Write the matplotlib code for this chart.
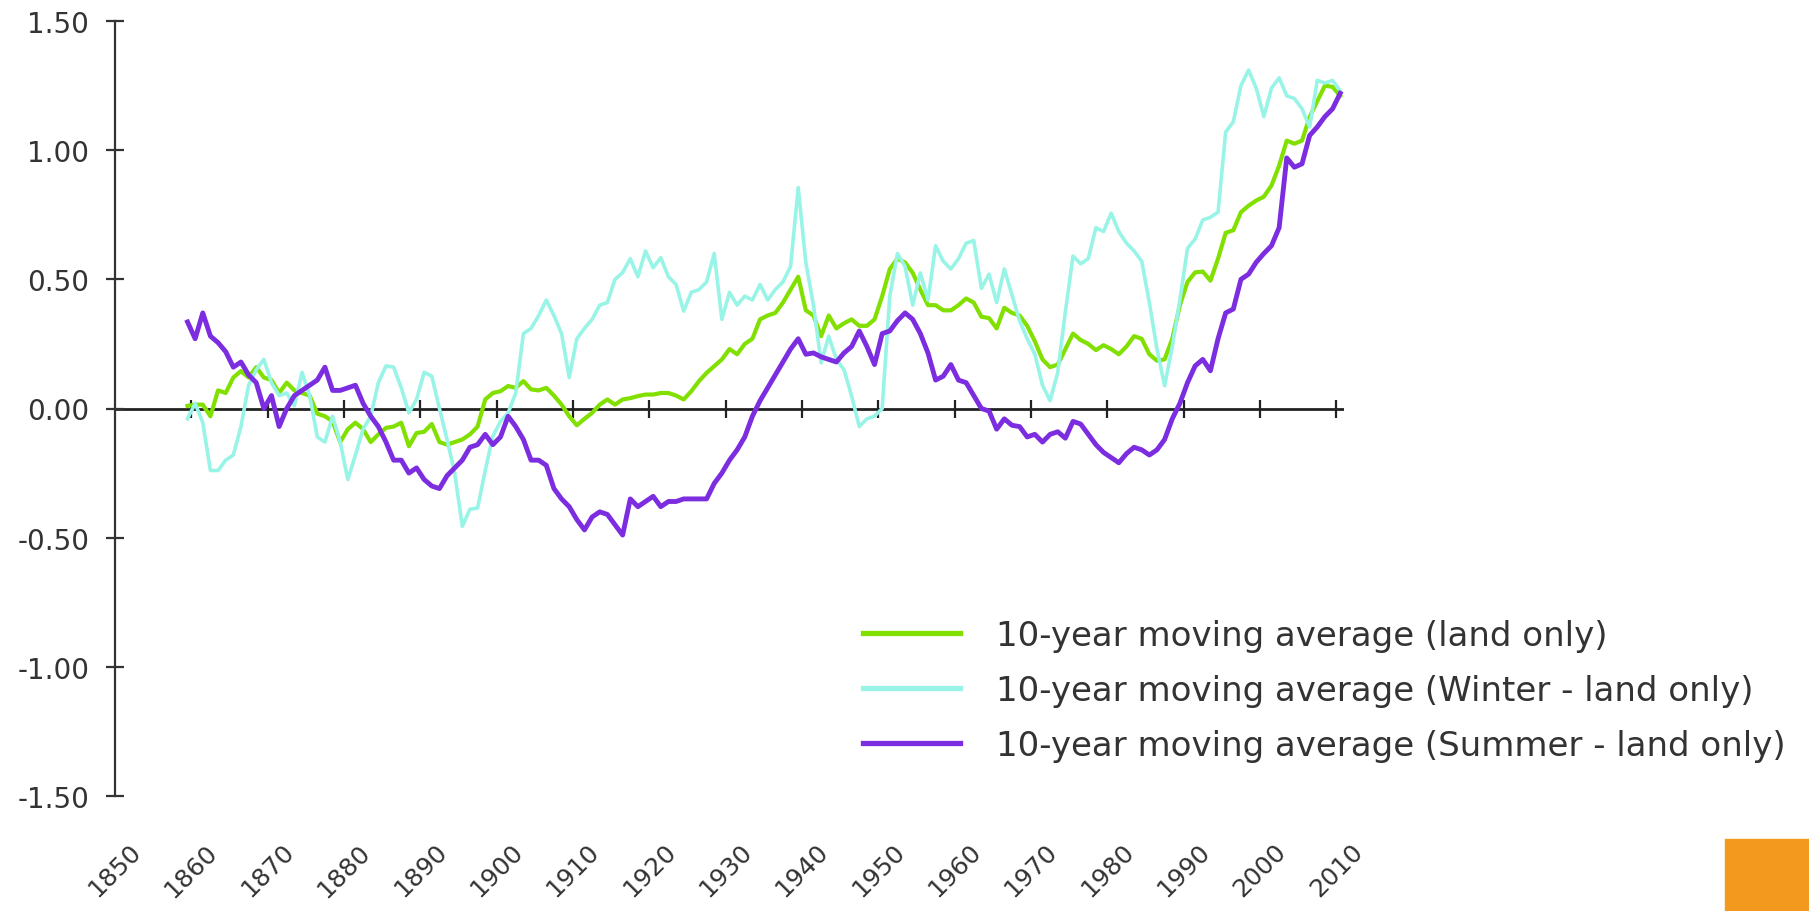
import matplotlib.pyplot as plt
from matplotlib.patches import Rectangle
import numpy as np

plt.rcParams['font.family'] = ['DejaVu Sans']

# yearly values, 10-year moving averages, 1859-2010
years = np.arange(1859, 2011)

land = [0.01, 0.015, 0.015, -0.03, 0.07, 0.06, 0.12, 0.145, 0.12, 0.16,
        0.12, 0.11, 0.06, 0.10, 0.07, 0.06, 0.05, -0.02, -0.03, -0.05,
        -0.13, -0.08, -0.055, -0.08, -0.13, -0.10, -0.075, -0.07, -0.055, -0.146,
        -0.095, -0.09, -0.06, -0.13, -0.14, -0.13, -0.12, -0.10, -0.07, 0.035,
        0.06, 0.067, 0.087, 0.08, 0.106, 0.074, 0.07, 0.08, 0.05, 0.015,
        -0.03, -0.065, -0.04, -0.017, 0.015, 0.035, 0.015, 0.035, 0.04, 0.048,
        0.054, 0.054, 0.06, 0.06, 0.05, 0.035, 0.067, 0.106, 0.138, 0.164,
        0.19, 0.23, 0.21, 0.25, 0.27, 0.345, 0.36, 0.37, 0.41, 0.46,
        0.51, 0.38, 0.36, 0.28, 0.36, 0.31, 0.33, 0.345, 0.32, 0.32,
        0.345, 0.435, 0.54, 0.58, 0.565, 0.525, 0.46, 0.40, 0.40, 0.38,
        0.38, 0.40, 0.426, 0.41, 0.355, 0.35, 0.31, 0.39, 0.37, 0.36,
        0.32, 0.26, 0.19, 0.16, 0.17, 0.23, 0.29, 0.265, 0.25, 0.226,
        0.245, 0.23, 0.21, 0.24, 0.28, 0.27, 0.21, 0.185, 0.19, 0.27,
        0.40, 0.49, 0.527, 0.53, 0.495, 0.58, 0.68, 0.69, 0.76, 0.785,
        0.805, 0.82, 0.863, 0.94, 1.037, 1.025, 1.037, 1.128, 1.19, 1.25,
        1.245, 1.21]

winter = [-0.04, 0.02, -0.055, -0.24, -0.24, -0.20, -0.18, -0.07, 0.09, 0.15,
          0.19, 0.10, 0.05, 0.06, 0.01, 0.14, 0.05, -0.11, -0.13, -0.03,
          -0.13, -0.275, -0.18, -0.08, -0.03, 0.10, 0.165, 0.16, 0.08, -0.017,
          0.035, 0.14, 0.125, 0.0, -0.12, -0.25, -0.456, -0.39, -0.385, -0.24,
          -0.107, -0.05, -0.017, 0.06, 0.29, 0.31, 0.36, 0.42, 0.36, 0.29,
          0.12, 0.27, 0.31, 0.345, 0.40, 0.41, 0.50, 0.526, 0.58, 0.51,
          0.61, 0.545, 0.584, 0.51, 0.48, 0.377, 0.45, 0.46, 0.49, 0.60,
          0.345, 0.45, 0.40, 0.435, 0.42, 0.48, 0.42, 0.46, 0.49, 0.55,
          0.855, 0.565, 0.40, 0.177, 0.28, 0.19, 0.15, 0.048, -0.07, -0.04,
          -0.03, 0.0, 0.435, 0.60, 0.55, 0.40, 0.525, 0.42, 0.63, 0.57,
          0.54, 0.58, 0.64, 0.65, 0.465, 0.52, 0.41, 0.54, 0.44, 0.34,
          0.27, 0.21, 0.09, 0.03, 0.14, 0.375, 0.59, 0.56, 0.58, 0.70,
          0.685, 0.756, 0.685, 0.64, 0.61, 0.57, 0.41, 0.23, 0.088, 0.24,
          0.42, 0.62, 0.656, 0.73, 0.74, 0.76, 1.07, 1.11, 1.25, 1.31,
          1.24, 1.13, 1.24, 1.28, 1.21, 1.20, 1.16, 1.09, 1.27, 1.26,
          1.27, 1.23]

summer = [0.335, 0.27, 0.37, 0.28, 0.255, 0.22, 0.16, 0.18, 0.13, 0.10,
          0.00, 0.05, -0.07, 0.00, 0.05, 0.07, 0.09, 0.11, 0.16, 0.07,
          0.07, 0.08, 0.09, 0.02, -0.03, -0.07, -0.13, -0.20, -0.20, -0.25,
          -0.23, -0.275, -0.30, -0.31, -0.26, -0.23, -0.20, -0.15, -0.14, -0.10,
          -0.14, -0.11, -0.03, -0.07, -0.12, -0.20, -0.20, -0.22, -0.31, -0.35,
          -0.38, -0.43, -0.47, -0.42, -0.40, -0.41, -0.45, -0.49, -0.35, -0.38,
          -0.36, -0.34, -0.38, -0.36, -0.36, -0.35, -0.35, -0.35, -0.35, -0.29,
          -0.25, -0.20, -0.16, -0.11, -0.03, 0.03, 0.08, 0.13, 0.18, 0.23,
          0.27, 0.21, 0.215, 0.20, 0.19, 0.18, 0.215, 0.24, 0.30, 0.24,
          0.17, 0.29, 0.30, 0.34, 0.37, 0.345, 0.29, 0.215, 0.11, 0.125,
          0.17, 0.11, 0.10, 0.05, 0.00, -0.01, -0.08, -0.04, -0.065, -0.07,
          -0.11, -0.10, -0.13, -0.10, -0.09, -0.115, -0.05, -0.06, -0.10, -0.14,
          -0.17, -0.19, -0.21, -0.175, -0.15, -0.16, -0.18, -0.16, -0.12, -0.04,
          0.02, 0.10, 0.165, 0.19, 0.146, 0.27, 0.37, 0.385, 0.50, 0.52,
          0.566, 0.60, 0.63, 0.70, 0.97, 0.934, 0.947, 1.057, 1.09, 1.13,
          1.16, 1.22]

labels = ["10-year moving average (land only)",
          "10-year moving average (Winter - land only)",
          "10-year moving average (Summer - land only)"]
colors = ["#82E000", "#98F4E6", "#7B2DDF"]

decades = list(range(1850, 2011, 10))
y_ticks = [-1.5, -1.0, -0.5, 0.0, 0.5, 1.0, 1.5]
y_labels = ["-1.50", "-1.00", "-0.50", "0.00", "0.50", "1.00", "1.50"]

W, H = 1809, 912
fig = plt.figure(figsize=(W / 100, H / 100), dpi=100)
ax = fig.add_axes([115 / W, 1 - 797 / H, (1344 - 115) / W, (797 - 22) / H])
ax.set_xlim(1850, 2011)
ax.set_ylim(-1.5, 1.5)

for s in ["top", "right", "bottom"]:
    ax.spines[s].set_visible(False)
ax.spines["left"].set_color("#333333")
ax.spines["left"].set_linewidth(1.6)

ax.set_yticks(y_ticks, y_labels)
ax.tick_params(axis="y", direction="inout", length=13, width=1.6,
               pad=12, labelsize=20, colors="#333333")
ax.set_xticks(decades, [str(d) for d in decades])
ax.tick_params(axis="x", length=0, pad=31, labelsize=18,
               labelrotation=45, labelcolor="#333333")

# the x axis line sits at zero with crossing tick marks
ax.axhline(0, color="#222222", lw=2.0, zorder=1)
ax.plot(decades[1:], [0] * len(decades[1:]), ls="none", marker="|",
        markersize=13, mew=1.6, color="#222222", zorder=1, clip_on=False)

x = years + 0.5
ax.plot(x, land, color=colors[0], lw=3.0, label=labels[0], zorder=3)
ax.plot(x, winter, color=colors[1], lw=2.6, label=labels[1], zorder=3)
ax.plot(x, summer, color=colors[2], lw=3.5, label=labels[2], zorder=3)

leg = ax.legend(loc="upper left", bbox_to_anchor=(863 / W, 1 - 620 / H),
                bbox_transform=fig.transFigure, frameon=False, fontsize=24.5,
                handlelength=2.85, handletextpad=1.05, labelspacing=0.64,
                borderpad=0, borderaxespad=0)
for t in leg.get_texts():
    t.set_color("#333333")
for h in leg.get_lines():
    h.set_linewidth(3.8)

fig.patches.append(Rectangle((1725 / W, 0), (W - 1725) / W, 72 / H,
                             transform=fig.transFigure, color="#F39A1E"))

fig.savefig("out.png", dpi=100)
